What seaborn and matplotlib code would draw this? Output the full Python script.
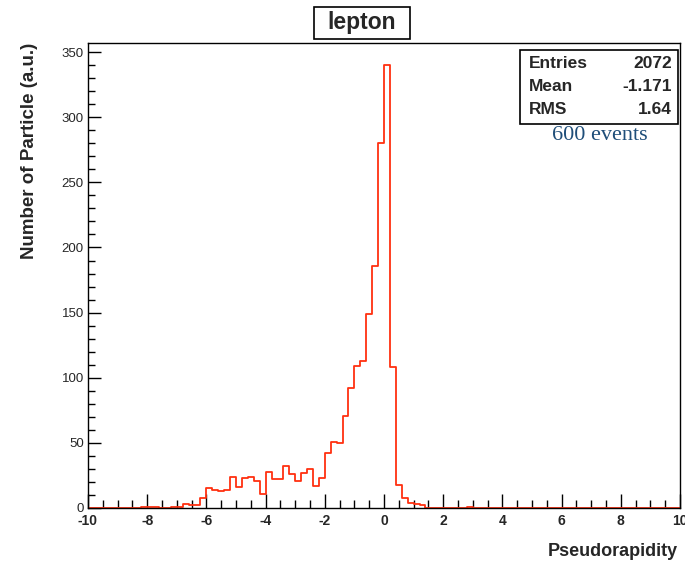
import numpy as np
import pandas as pd
import matplotlib
matplotlib.use("Agg")
import matplotlib.pyplot as plt
import seaborn as sns
from matplotlib.ticker import MultipleLocator
from matplotlib.patches import Rectangle

# ---- data ----
bin_low = [-8.2, -8.0, -7.8, -7.2, -7.0, -6.8, -6.6, -6.4, -6.2,
           -6.0, -5.8, -5.6, -5.4, -5.2, -5.0, -4.8, -4.6, -4.4, -4.2,
           -4.0, -3.8, -3.6, -3.4, -3.2, -3.0, -2.8, -2.6, -2.4, -2.2,
           -2.0, -1.8, -1.6, -1.4, -1.2, -1.0, -0.8, -0.6, -0.4, -0.2,
           0.0, 0.2, 0.4, 0.6, 0.8, 1.0, 1.2, 2.8]
counts = [1, 1, 1, 1, 1, 3, 2, 2, 8,
          15, 14, 13, 14, 24, 16, 23, 24, 21, 11,
          28, 22, 22, 32, 26, 21, 27, 30, 17, 23,
          42, 51, 50, 71, 92, 109, 113, 149, 186, 280,
          340, 108, 18, 8, 4, 3, 2, 1]
bin_width = 0.2
x_range = (-10, 10)
n_bins = 100
title = "lepton"
x_title = "Pseudorapidity"
y_title = "Number of Particle (a.u.)"
stats_names = ["Entries", "Mean", "RMS"]
stats_values = ["2072", "-1.171", "1.64"]
note = "600 events"

df = pd.DataFrame({"eta": np.array(bin_low) + bin_width / 2, "n": counts})

sns.set_style("white")
plt.rcParams["font.family"] = ["Liberation Sans", "DejaVu Sans"]
plt.rcParams["axes.unicode_minus"] = False

W, H = 685, 562
fig = plt.figure(figsize=(W / 100, H / 100), dpi=100)
ax = fig.add_axes([88 / W, 1 - 508 / H, (680 - 88) / W, (508 - 43) / H])

sns.histplot(data=df, x="eta", weights="n", bins=n_bins, binrange=x_range,
             element="step", fill=False, color="#ff3010", linewidth=1.3, ax=ax)

ax.set_xlim(*x_range)
ax.set_ylim(0, 357)
ax.set_xlabel("")
ax.set_ylabel("")

ax.xaxis.set_major_locator(MultipleLocator(2))
ax.xaxis.set_minor_locator(MultipleLocator(0.5))
ax.yaxis.set_major_locator(MultipleLocator(50))
ax.yaxis.set_minor_locator(MultipleLocator(10))
ax.tick_params(axis="x", which="major", direction="in", length=10, width=1,
               labelsize=10, pad=4, top=False, bottom=True, color="black")
ax.tick_params(axis="x", which="minor", direction="in", length=5.8, width=1,
               top=False, bottom=True, color="black")
ax.tick_params(axis="y", which="major", direction="in", length=9.5, width=1,
               labelsize=9.5, pad=3, left=True, right=False, color="black")
ax.tick_params(axis="y", which="minor", direction="in", length=5, width=1,
               left=True, right=False, color="black")
for lab in ax.get_xticklabels():
    lab.set_fontweight("bold")
for s in ax.spines.values():
    s.set_color("black")
    s.set_linewidth(1.0)

# Title box
fig.patches.append(Rectangle((314 / W, 1 - 39 / H), 96 / W, 32 / H,
                             transform=fig.transFigure, fc="white", ec="black",
                             lw=1.2, zorder=5))
fig.text(362 / W, 1 - 23 / H, title, ha="center", va="center", fontsize=16.5,
         fontweight="bold", zorder=6)

# Axis titles
fig.text(30 / W, 1 - 43 / H, y_title, rotation=90, ha="center", va="top",
         fontsize=13.5, fontweight="bold")
fig.text(678 / W, 1 - 551 / H, x_title, ha="right", va="center",
         fontsize=13, fontweight="bold")

# Stats box
fig.patches.append(Rectangle((520 / W, 1 - 124 / H), 158 / W, 74 / H,
                             transform=fig.transFigure, fc="white", ec="black",
                             lw=1.2, zorder=5))
for i, (nm, val) in enumerate(zip(stats_names, stats_values)):
    y = 1 - (63 + 23.5 * i) / H
    fig.text(529 / W, y, nm, ha="left", va="center", fontsize=12.5,
             fontweight="bold", zorder=6)
    fig.text(672 / W, y, val, ha="right", va="center", fontsize=12.5,
             fontweight="bold", zorder=6)

fig.text(600 / W, 1 - 136 / H, note, ha="center", va="center", fontsize=16,
         family=["Liberation Serif", "DejaVu Serif"], color="#1f4e79")

fig.savefig("out.png", dpi=100)
